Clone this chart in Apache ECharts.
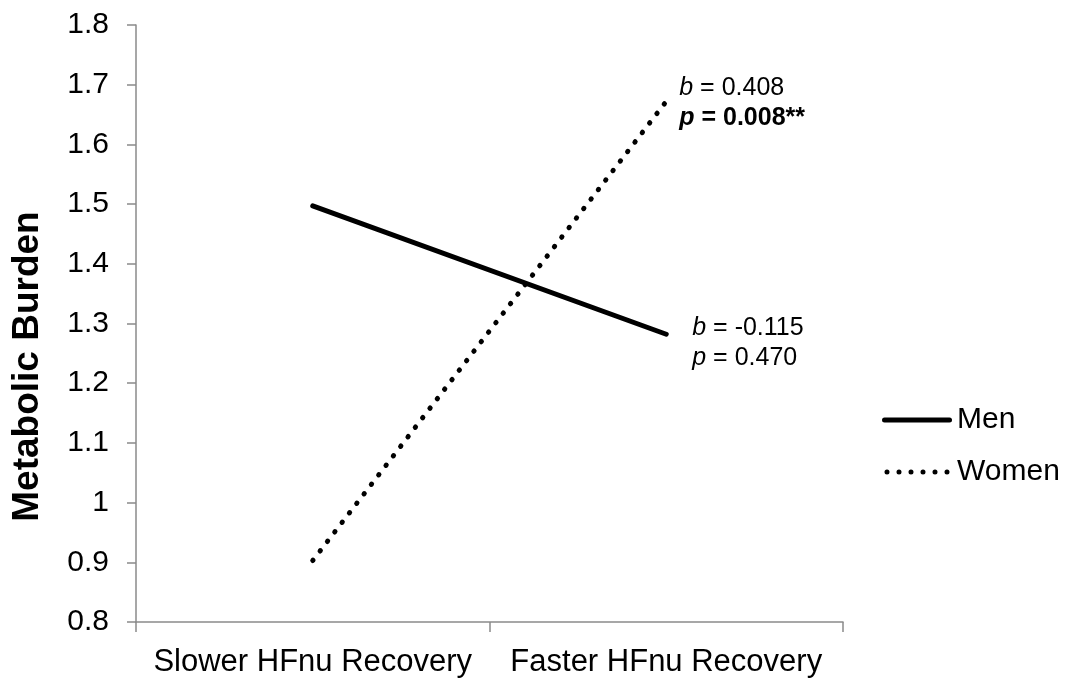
<!DOCTYPE html>
<html>
<head>
<meta charset="utf-8">
<script src="https://cdn.jsdelivr.net/npm/echarts@6/dist/echarts.min.js"></script>
<style>
html,body{margin:0;padding:0;background:#fff;}
#c{width:1068px;height:679px;}
</style>
</head>
<body>
<div id="c"></div>
<script>
const categories = ['Slower HFnu Recovery', 'Faster HFnu Recovery'];
const menValues = [1.497, 1.282];
const womenValues = [0.903, 1.672];
const menStats = ['-0.115', '0.470'];
const womenStats = ['0.408', '0.008**'];
const yMin = 0.8, yMax = 1.8, yStep = 0.1;

const FONT = 'Liberation Sans, Arial, sans-serif';
const axisGray = '#8a8a8a';

// legend icons (style only)
const menIcon = 'path://M2.5,0L67.5,0A2.5,2.5,0,0,1,67.5,5L2.5,5A2.5,2.5,0,0,1,2.5,0Z';
let dots = '';
for (let i = 0; i < 6; i++) {
  const cx = 2.5 + 12 * i;
  dots += 'M' + (cx - 2.5) + ',2.5A2.5,2.5,0,1,0,' + (cx + 2.5) + ',2.5A2.5,2.5,0,1,0,' + (cx - 2.5) + ',2.5Z';
}
const womenIcon = 'path://' + dots;

const chart = echarts.init(document.getElementById('c'), null, {renderer: 'canvas'});

const rich = {
  i: {fontStyle: 'italic', fontSize: 25, fontFamily: FONT, color: '#000', lineHeight: 30},
  n: {fontSize: 25, fontFamily: FONT, color: '#000', lineHeight: 30},
  bi: {fontStyle: 'italic', fontWeight: 'bold', fontSize: 25, fontFamily: FONT, color: '#000', lineHeight: 30},
  bb: {fontWeight: 'bold', fontSize: 25, fontFamily: FONT, color: '#000', lineHeight: 30}
};

chart.setOption({
  animation: false,
  backgroundColor: '#fff',
  grid: {left: 136, right: 225, top: 25, bottom: 57, containLabel: false},
  xAxis: {
    type: 'category',
    data: categories,
    boundaryGap: true,
    axisLine: {lineStyle: {color: axisGray, width: 1.5}},
    axisTick: {show: true, length: 10, inside: false, lineStyle: {color: axisGray, width: 1.5}},
    axisLabel: {color: '#000', fontSize: 31, fontFamily: FONT, margin: 25, interval: 0, hideOverlap: false}
  },
  yAxis: {
    type: 'value',
    min: yMin, max: yMax, interval: yStep,
    name: 'Metabolic Burden',
    nameLocation: 'middle',
    nameGap: 90,
    nameTextStyle: {color: '#000', fontSize: 37, fontWeight: 'bold', fontFamily: FONT, padding: [0, 86, 0, 0]},
    axisLine: {show: true, lineStyle: {color: axisGray, width: 1.5}},
    axisTick: {show: true, length: 9, lineStyle: {color: axisGray, width: 1.5}},
    splitLine: {show: false},
    axisLabel: {color: '#000', fontSize: 30, fontFamily: FONT, margin: 27}
  },
  legend: {
    orient: 'vertical',
    left: 877,
    top: 400,
    itemWidth: 70,
    itemHeight: 5,
    itemGap: 22,
    textStyle: {color: '#000', fontSize: 30, fontFamily: FONT, lineHeight: 30},
    data: [
      {name: 'Men', icon: menIcon, itemStyle: {color: '#000'}},
      {name: 'Women', icon: womenIcon, itemStyle: {color: '#000'}}
    ]
  },
  series: [
    {
      name: 'Men',
      type: 'line',
      data: menValues,
      symbol: 'none',
      lineStyle: {color: '#000', width: 5, cap: 'round'},
      itemStyle: {color: '#000'},
      endLabel: {
        show: true,
        distance: 26,
        offset: [0, 9],
        align: 'left',
        verticalAlign: 'middle',
        rich: rich,
        formatter: () => '{i|b}{n| = ' + menStats[0] + '}\n{i|p}{n| = ' + menStats[1] + '}'
      }
    },
    {
      name: 'Women',
      type: 'line',
      data: womenValues,
      symbol: 'none',
      lineStyle: {color: '#000', width: 5, type: [0.5, 11.5], cap: 'round'},
      itemStyle: {color: '#000'},
      endLabel: {
        show: true,
        distance: 13,
        offset: [0, 2],
        align: 'left',
        verticalAlign: 'middle',
        rich: rich,
        formatter: () => '{i|b}{n| = ' + womenStats[0] + '}\n{bi|p}{bb| = ' + womenStats[1] + '}'
      }
    }
  ]
});
</script>
</body>
</html>
